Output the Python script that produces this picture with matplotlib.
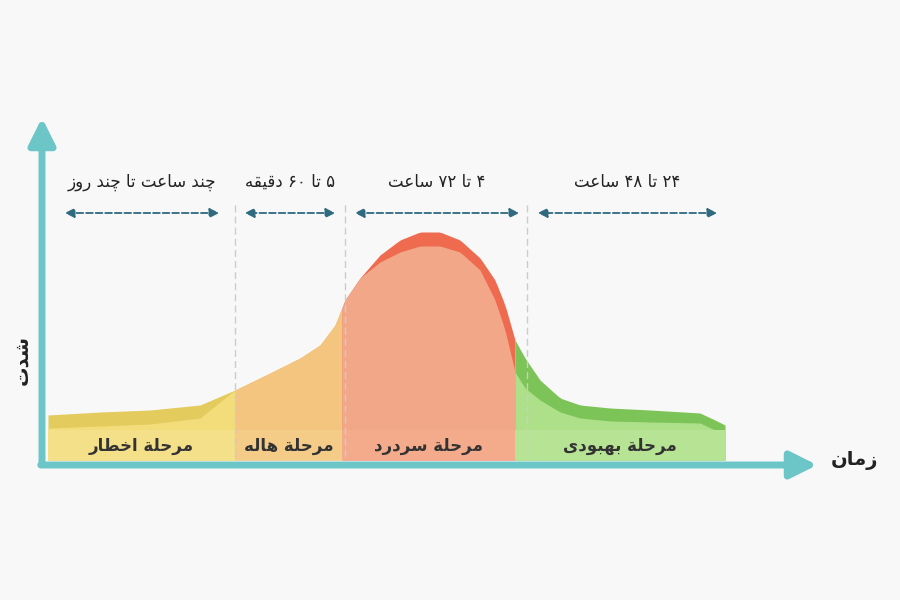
import matplotlib
matplotlib.use("Agg")
import matplotlib.pyplot as plt
import numpy as np
from matplotlib.patches import FancyArrowPatch

# ---------- minimal Persian shaping ----------
FORMS = {  # iso, fin, ini, med (None -> non-joining left)
 'ا':(0xFE8D,0xFE8E,None,None),'ب':(0xFE8F,0xFE90,0xFE91,0xFE92),'ت':(0xFE95,0xFE96,0xFE97,0xFE98),
 'ح':(0xFEA1,0xFEA2,0xFEA3,0xFEA4),'خ':(0xFEA5,0xFEA6,0xFEA7,0xFEA8),'د':(0xFEA9,0xFEAA,None,None),
 'ر':(0xFEAD,0xFEAE,None,None),'ز':(0xFEAF,0xFEB0,None,None),'س':(0xFEB1,0xFEB2,0xFEB3,0xFEB4),
 'ش':(0xFEB5,0xFEB6,0xFEB7,0xFEB8),'ط':(0xFEC1,0xFEC2,0xFEC3,0xFEC4),'ع':(0xFEC9,0xFECA,0xFECB,0xFECC),
 'ق':(0xFED5,0xFED6,0xFED7,0xFED8),'ل':(0xFEDD,0xFEDE,0xFEDF,0xFEE0),'م':(0xFEE1,0xFEE2,0xFEE3,0xFEE4),
 'ن':(0xFEE5,0xFEE6,0xFEE7,0xFEE8),'ه':(0xFEE9,0xFEEA,0xFEEB,0xFEEC),'و':(0xFEED,0xFEEE,None,None),
 'ی':(0xFBFC,0xFBFD,0xFBFE,0xFBFF),'چ':(0xFB7A,0xFB7B,0xFB7C,0xFB7D),'ة':(0xFE93,0xFE94,None,None),
}
def shape_word(w):
    if not any(c in FORMS for c in w):
        return w
    out = []
    for i, c in enumerate(w):
        if c not in FORMS:
            out.append(c); continue
        p = w[i-1] if i > 0 else None
        n = w[i+1] if i < len(w)-1 else None
        jp = p in FORMS and FORMS[p][2] is not None
        jn = FORMS[c][2] is not None and n in FORMS
        iso, fin, ini, med = FORMS[c]
        code = med if (jp and jn) else fin if jp else ini if jn else iso
        out.append(chr(code))
    return ''.join(reversed(out))
def fa(s):
    return ' '.join(shape_word(w) for w in reversed(s.split(' ')))

# ---------- data ----------
phases = ['مرحلة اخطار', 'مرحلة هاله', 'مرحلة سردرد', 'مرحلة بهبودی']
durations = ['چند ساعت تا چند روز', '۵ تا ۶۰ دقیقه', '۴ تا ۷۲ ساعت', '۲۴ تا ۴۸ ساعت']
bounds = [48, 235, 342, 515, 725]
light_cols = ['#f3dc7a', '#f4c57f', '#f2a788', '#aee08a']
dark_cols = ['#e3cb5e', '#f0bd73', '#ee6b50', '#7cc457']
band_cols = ['#f5e08a', '#f4cb87', '#f3ab8c', '#b6e494']
curve_x = [48, 100, 150, 200, 235, 270, 300, 320, 335, 345, 360, 380, 400, 420, 440, 460, 480, 495, 505, 515, 525, 540, 560, 580, 610, 650, 700, 715, 725]
curve_top = [415, 412, 410, 405, 390, 373, 358, 345, 325, 300, 278, 255, 240, 232, 232, 240, 258, 280, 305, 340, 358, 380, 398, 405, 408, 410, 413, 420, 425]
curve_light = [428, 426, 424, 418, 390, 373, 358, 345, 325, 300, 278, 262, 252, 246, 246, 252, 270, 300, 330, 372, 388, 400, 412, 418, 421, 422, 423, 430, 433]
dur_arrows = [(62, 222), (242, 338), (352, 522), (535, 720)]
dividers = [235, 345, 527]

fig = plt.figure(figsize=(9, 6), dpi=100)
fig.patch.set_facecolor('#f8f8f8')
ax = fig.add_axes([0, 0, 1, 1])
ax.set_xlim(0, 900); ax.set_ylim(600, 0); ax.axis('off')

xs = np.array(curve_x); yt = np.array(curve_top); yl = np.array(curve_light)
for i in range(4):
    a, b = bounds[i], bounds[i+1]
    xx = np.linspace(a, b, 60)
    t = np.interp(xx, xs, yt); l = np.interp(xx, xs, yl)
    ax.fill_between(xx, 460, t, color=dark_cols[i], lw=0)
    ax.fill_between(xx, 460, l, color=light_cols[i], lw=0)
    ax.fill_between(xx, 460, 430, color=band_cols[i], lw=0)
    ax.text((a+b)/2, 446, fa(phases[i]), ha='center', va='center', fontsize=12,
            fontweight='bold', color='#333333', family='DejaVu Sans')

for d in dividers:
    ax.plot([d, d], [205, 460], color='#cccccc', lw=1, ls=(0, (5, 3)))

for (a, b), s in zip(dur_arrows, durations):
    ax.annotate('', xy=(a, 213), xytext=(b, 213),
                arrowprops=dict(arrowstyle='<|-|>', color='#2f6a80', lw=1.3, ls='--', mutation_scale=14))
    ax.text((a+b)/2, 182, fa(s), ha='center', va='center', fontsize=12, color='#222222', family='DejaVu Sans')

teal = '#6cc6c8'
ax.add_patch(FancyArrowPatch((42, 467), (42, 115), arrowstyle='-|>', mutation_scale=40, color=teal, lw=5))
ax.add_patch(FancyArrowPatch((38, 465), (820, 465), arrowstyle='-|>', mutation_scale=40, color=teal, lw=5))
ax.text(855, 460, fa('زمان'), ha='center', va='center', fontsize=14, fontweight='bold', color='#222222')
ax.text(22, 360, fa('شدت'), ha='center', va='center', fontsize=14, fontweight='bold', color='#222222', rotation=90)

fig.savefig('out.png', dpi=100, facecolor=fig.get_facecolor())
